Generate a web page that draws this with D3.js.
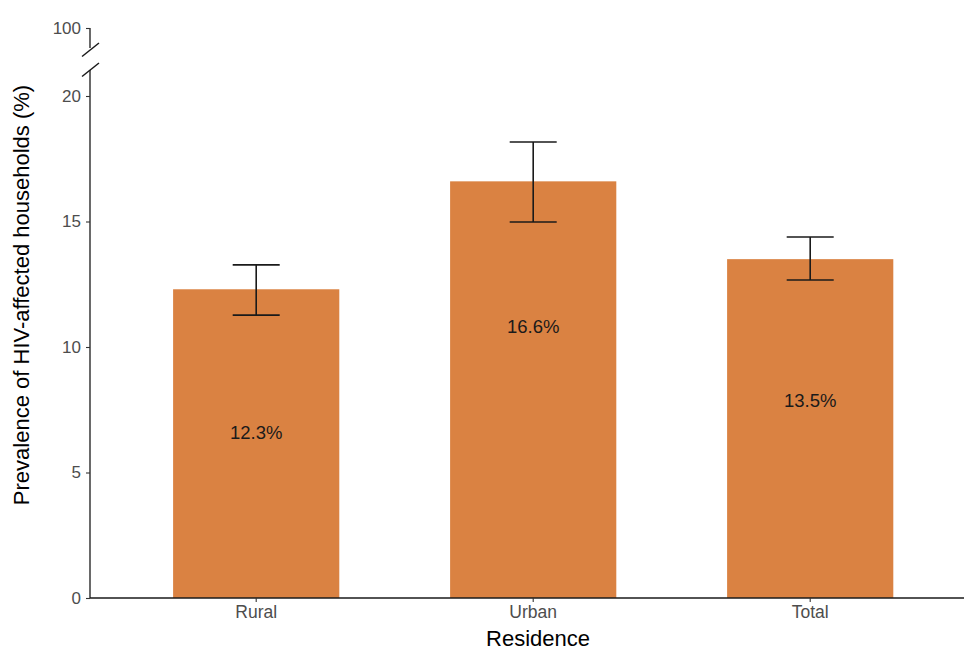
<!DOCTYPE html>
<html><head><meta charset="utf-8">
<script src="https://cdn.jsdelivr.net/npm/d3@7"></script>
<style>
body{margin:0;background:#fff;}
text{font-family:"Liberation Sans",Arial,Helvetica,sans-serif;}
</style></head>
<body>
<svg id="chart" width="964" height="650"></svg>
<script>
const categories = ["Rural", "Urban", "Total"];
const values = [12.3, 16.6, 13.5];
const lowerCI = [11.27, 14.98, 12.67];
const upperCI = [13.27, 18.17, 14.38];
const labels = ["12.3%", "16.6%", "13.5%"];
const labelPos = [6.6, 10.8, 7.85];
const yTicks = [0, 5, 10, 15, 20];
const yTopTicks = [100];

const svg = d3.select("#chart");
const x = d3.scaleBand().domain(categories).range([90, 976.4]).paddingInner(0.4).paddingOuter(0.3);
const y = d3.scaleLinear().domain([0, 20]).range([598, 96]);
const yTop = d3.scaleLinear().domain([99, 100]).range([48, 28]);
const FONT = "Liberation Sans, Arial, sans-serif";

// bars
svg.selectAll("rect.bar").data(categories).join("rect")
  .attr("class","bar")
  .attr("x", d => x(d)).attr("width", x.bandwidth())
  .attr("y", (d,i) => y(values[i])).attr("height", (d,i) => y(0) - y(values[i]))
  .attr("fill", "#DA8242");

// error bars
const capW = 47;
const eb = svg.selectAll("g.eb").data(categories).join("g").attr("class","eb")
  .attr("stroke","#1a1a1a").attr("stroke-width",1.6).attr("fill","none");
eb.append("line").attr("x1", d => x(d)+x.bandwidth()/2).attr("x2", d => x(d)+x.bandwidth()/2)
  .attr("y1", (d,i)=>y(lowerCI[i])).attr("y2", (d,i)=>y(upperCI[i]));
eb.append("line").attr("x1", d => x(d)+x.bandwidth()/2-capW/2).attr("x2", d => x(d)+x.bandwidth()/2+capW/2)
  .attr("y1", (d,i)=>y(lowerCI[i])).attr("y2", (d,i)=>y(lowerCI[i]));
eb.append("line").attr("x1", d => x(d)+x.bandwidth()/2-capW/2).attr("x2", d => x(d)+x.bandwidth()/2+capW/2)
  .attr("y1", (d,i)=>y(upperCI[i])).attr("y2", (d,i)=>y(upperCI[i]));

// value labels
svg.selectAll("text.vl").data(categories).join("text").attr("class","vl")
  .attr("x", d => x(d)+x.bandwidth()/2).attr("y", (d,i)=>y(labelPos[i]))
  .attr("text-anchor","middle").attr("dy","0.35em")
  .attr("font-size",18.5).attr("fill","#1a1a1a").text((d,i)=>labels[i]);

// y axis (lower)
const yAxis = svg.append("g").attr("transform","translate(90,0)")
  .call(d3.axisLeft(y).tickValues(yTicks).tickFormat(d3.format("d")).tickSize(4).tickPadding(5).tickSizeOuter(0));
yAxis.select(".domain").attr("d", `M0,${y(0)}V70`).attr("stroke","#1a1a1a").attr("stroke-width",1.3);
yAxis.selectAll(".tick line").attr("stroke","#333").attr("stroke-width",1.1);
yAxis.selectAll(".tick text").attr("font-size",17).attr("fill","#4d4d4d").attr("font-family",FONT);

// y axis (top, after break)
const yAxisTop = svg.append("g").attr("transform","translate(90,0)")
  .call(d3.axisLeft(yTop).tickValues(yTopTicks).tickFormat(d3.format("d")).tickSize(4).tickPadding(5).tickSizeOuter(0));
yAxisTop.select(".domain").attr("d", `M0,${yTop(100)}V${yTop(99)}`).attr("stroke","#1a1a1a").attr("stroke-width",1.3);
yAxisTop.selectAll(".tick line").attr("stroke","#333").attr("stroke-width",1.1);
yAxisTop.selectAll(".tick text").attr("font-size",17).attr("fill","#4d4d4d").attr("font-family",FONT);

// break slashes
const slash = svg.append("g").attr("stroke","#1a1a1a").attr("stroke-width",1.5);
slash.append("line").attr("x1",82).attr("y1",56.5).attr("x2",99).attr("y2",43);
slash.append("line").attr("x1",82).attr("y1",76.5).attr("x2",99).attr("y2",63);

// x axis
const xAxis = svg.append("g").attr("transform",`translate(0,${y(0)})`)
  .call(d3.axisBottom(x).tickSize(4).tickPadding(4).tickSizeOuter(0));
xAxis.select(".domain").attr("d","M90,0H964").attr("stroke","#1a1a1a").attr("stroke-width",1.3);
xAxis.selectAll(".tick line").attr("stroke","#333").attr("stroke-width",1.1);
xAxis.selectAll(".tick text").attr("font-size",17.5).attr("fill","#4d4d4d").attr("font-family",FONT);

// axis titles
svg.append("text").attr("x", 538).attr("y", 646).attr("text-anchor","middle")
  .attr("font-size",22).attr("fill","#000").text("Residence");
svg.append("text").attr("transform","translate(29,295) rotate(-90)").attr("text-anchor","middle")
  .attr("font-size",22).attr("fill","#000").text("Prevalence of HIV-affected households (%)");
</script>
</body></html>
